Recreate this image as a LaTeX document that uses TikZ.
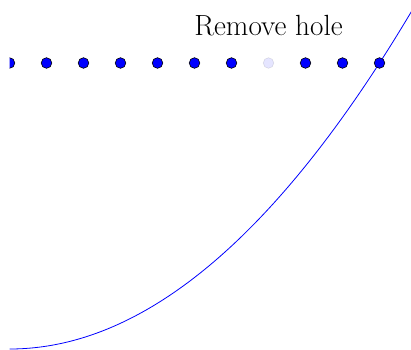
\documentclass[tikz,border=0pt]{standalone}
\usetikzlibrary{calc}
\tikzset{
  holedot/.style={circle, fill=blue, draw=black, line width=0.6pt, minimum size=10.6pt, inner sep=0pt},
  gonedot/.style={holedot, opacity=0.1},
  curveline/.style={blue, line width=0.8pt}
}
\begin{document}
\begin{tikzpicture}[x=37pt, y=2.86pt]
\useasboundingbox (-9.5pt,0pt) rectangle (401.5pt,349pt);
\begin{scope}
\clip (0pt,0pt) rectangle (401.5pt,349pt);
\draw[curveline] plot[domain=0:11, samples=120, smooth] (\x, {\x*\x});
\foreach \i in {0,1,2,3,4,5,6,8,9,10} {
  \node[holedot] (d\i) at (\i,100) {};
}
\node[gonedot] (d7) at (7,100) {};
\end{scope}
\node[anchor=base, font=\fontsize{29.2}{35}\selectfont, inner sep=0pt] (lbl) at (7,109.6) {Remove hole};
\end{tikzpicture}
\end{document}
